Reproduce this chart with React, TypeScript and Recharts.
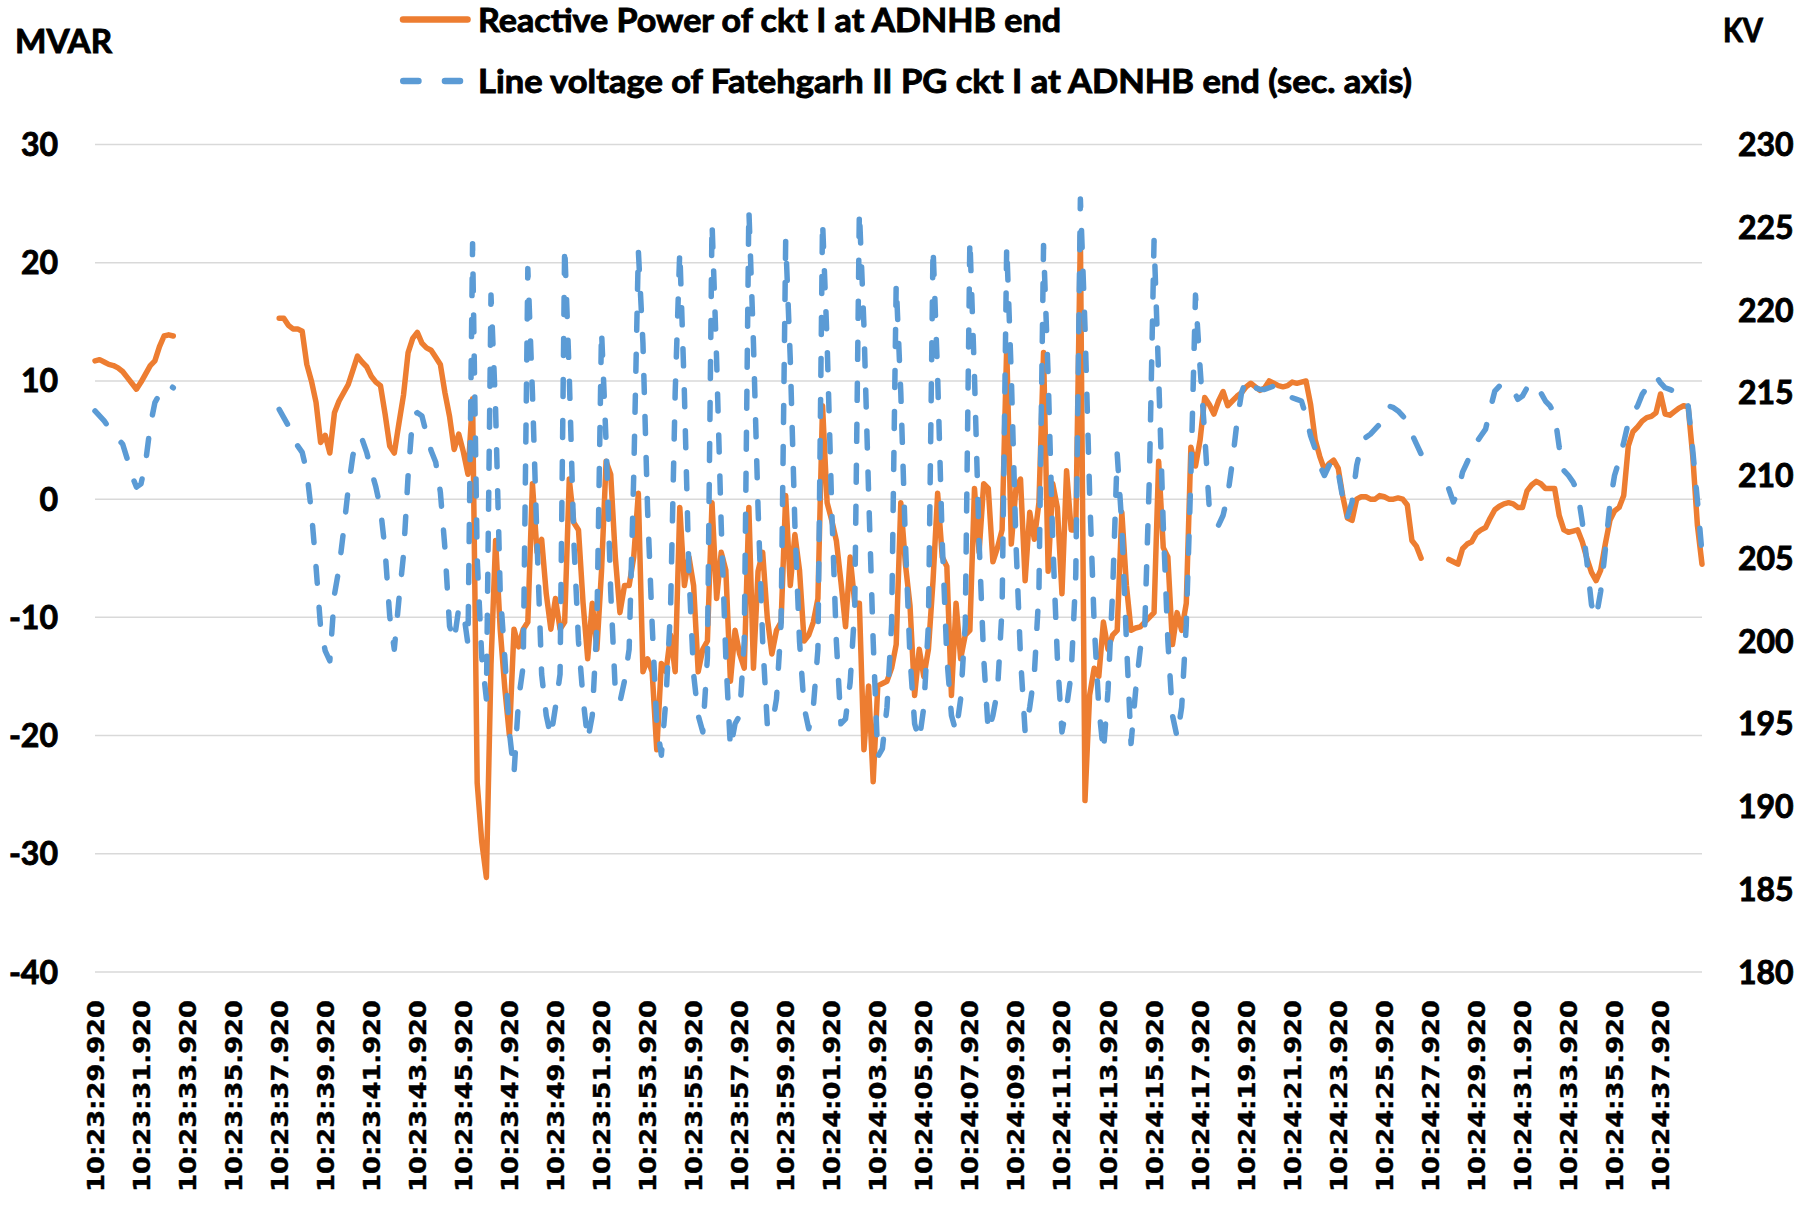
import { LineChart, Line, XAxis, YAxis, CartesianGrid } from 'recharts'

// samples every 0.2 s starting 10:23:29.920
const START_MS = (10 * 3600 + 23 * 60 + 29) * 1000 + 920
const STEP_MS = 200

const REACTIVE_MVAR: (number | null)[] = [
  11.7, 11.8, 11.6, 11.4, 11.3, 11.1, 10.8, 10.3, 9.8, 9.3,
  9.9, 10.6, 11.3, 11.7, 12.9, 13.8, 13.9, 13.8, null, null,
  null, null, null, null, null, null, null, null, null, null,
  null, null, null, null, null, null, null, null, null, null,
  15.3, 15.3, 14.7, 14.4, 14.4, 14.2, 11.4, 10.0, 8.2, 4.8,
  5.4, 3.9, 7.3, 8.3, 9.0, 9.7, 10.9, 12.1, 11.6, 11.2,
  10.4, 9.9, 9.6, 7.2, 4.5, 3.9, 6.4, 8.8, 12.4, 13.6,
  14.1, 13.2, 12.8, 12.6, 12.0, 11.4, 9.0, 7.0, 4.2, 5.5,
  4.0, 2.1, 8.5, -24, -29, -32, -14, -3.5, -11, -16,
  -20, -11, -12.5, -11, -10.4, 1.3, -4.5, -3.4, -8, -11,
  -8.4, -11, -10.4, 1.7, -2, -2.6, -8.8, -13.5, -8.8, -12.7,
  -6.1, 3.2, 2.1, -4.9, -9.6, -7.3, -7.3, -4.9, 0.5, -14.6,
  -13.5, -14.6, -21.2, -13.9, -14.6, -11.5, -14.6, -0.7, -7.3, -4.9,
  -7.3, -14.6, -12.7, -12, -0.3, -8.4, -4.5, -6, -15.4, -11.1,
  -13.1, -14.3, -0.7, -14.3, -6.1, -4.5, -10, -13.1, -11.1, -10.4,
  0.3, -7.3, -3, -6, -12, -11.5, -10.4, -8.4, 7.9, -0.3,
  -1.8, -3.5, -7, -10.8, -4.9, -8.8, -8.8, -21.2, -15.8, -23.9,
  -15.8, -15.6, -15.4, -14.3, -12.3, -0.3, -5.5, -9, -16.6, -12.7,
  -15, -12.7, -6.9, 0.5, -4.9, -5.7, -16.6, -8.8, -13.5, -11.5,
  -11.1, 0.9, -4.5, 1.3, 0.9, -5.3, -4.1, -2.6, 12.9, -3.8,
  0.9, 1.7, -6.9, -1.1, -3.4, -0.3, 12.4, -6.1, 1.3, -0.7,
  -8, 2.4, -2.6, -2.6, 22.3, -25.5, -16.6, -14.3, -15, -10.4,
  -12.7, -11.5, -11.1, -1.1, -7.3, -11.1, -10.9, -10.8, -10.4, -10,
  -9.6, 3.2, -4.1, -4.9, -12.3, -9.6, -11.1, -8.8, 4.4, 2.8,
  5, 8.6, 8.0, 7.2, 8.3, 9.1, 7.9, 8.3, 8.7, 9.0,
  9.5, 9.8, 9.5, 9.2, 9.4, 10.0, 9.8, 9.6, 9.5, 9.6,
  9.9, 9.8, 9.9, 10.0, 8.0, 5.0, 3.6, 2.5, 3.0, 3.3,
  2.6, 0.2, -1.6, -1.8, 0.0, 0.2, 0.2, 0.0, 0.0, 0.3,
  0.2, 0.0, 0.0, 0.1, 0.0, -0.5, -3.5, -4.0, -5.0, null,
  null, null, null, null, -5.1, -5.3, -5.5, -4.2, -3.8, -3.6,
  -2.9, -2.6, -2.4, -1.6, -0.9, -0.6, -0.4, -0.3, -0.4, -0.7,
  -0.7, 0.7, 1.2, 1.5, 1.3, 0.9, 0.9, 0.9, -1.4, -2.6,
  -2.8, -2.7, -2.6, -3.6, -5.0, -6.2, -6.9, -6.0, -3.8, -1.8,
  -1.0, -0.7, 0.3, 4.5, 5.7, 6.1, 6.6, 6.9, 7.0, 7.3,
  8.9, 7.2, 7.1, 7.4, 7.7, 7.9, 7.8, 3.6, -2.2, -5.5,
]

const LINE_KV: (number | null)[] = [
  213.9, 213.6, 213.3, 212.9, 212.5, 212.2, 211.9, 211.0, 210.0, 209.3,
  209.5, 210.8, 213.0, 214.4, 214.9, 215.4, 215.5, 215.3, null, null,
  null, null, null, null, null, null, null, null, null, null,
  null, null, null, null, null, null, null, null, null, null,
  214.0, 213.5, 213.0, 212.3, 211.8, 211.4, 210.2, 207.8, 204.5, 200.8,
  199.4, 198.8, 202.8, 204.4, 206.7, 209.2, 211.2, 212.3, 212.2, 211.4,
  210.3, 209.3, 208.0, 205.5, 201.5, 199.5, 202.5, 205.2, 210.0, 213.6,
  213.8, 213.6, 212.5, 211.5, 210.8, 209.0, 205.6, 200.9, 200.0, 202.0,
  201.8, 199.8, 224.0, 205, 199, 196.5, 220.9, 214, 203, 199,
  194.5, 192, 196.5, 198.5, 222.5, 215, 206, 198, 195.5, 194.2,
  196, 198, 223.9, 216, 206, 200, 196.5, 194, 195.5, 201,
  218.8, 212, 203, 197, 196.3, 197.6, 199.5, 210, 223.6, 218,
  208, 201, 195, 193.1, 196.5, 202, 215, 223.6, 215, 204,
  198, 195.5, 194.5, 199, 225.3, 217, 207, 199, 193.5, 195,
  195.5, 200, 226.1, 218, 208, 200, 195, 194.8, 196.5, 201,
  224.2, 217, 207, 200, 196, 194.7, 196, 199.5, 225.4, 218,
  208, 200, 195, 195.3, 197.5, 202, 226, 219, 209, 200,
  193, 193.5, 196, 201, 221.6, 215, 206, 199, 195, 194,
  196, 201, 223.8, 216, 206, 199, 195.5, 194.5, 196.5, 201,
  224.3, 216, 206, 199, 194.5, 195.5, 197, 202, 223.9, 216,
  206, 199, 194.5, 196, 198, 203, 223.9, 216, 206, 199,
  194.5, 196, 198, 204, 226.7, 219, 209, 201, 196, 193.3,
  197, 203, 211.3, 207, 200, 193.8, 197, 199.5, 201, 210,
  224.2, 216, 207, 200, 195.5, 194.2, 196, 201, 210, 220.9,
  216.5, 212.5, 208, 207.2, 207, 207.6, 208.8, 210.8, 213.2, 215,
  215.8, 215.8, 215.3, 215.2, 215.2, 215.3, 215.4, 215.0, 214.9, 214.8,
  214.7, 214.6, 214.5, 213.6, 212.4, 211.6, 210.6, 210.0, 210.6, 210.9,
  210.2, 208.6, 207.5, 208.4, 210.6, 211.8, 212.3, 212.5, 212.8, 213.1,
  213.8, 214.2, 214.1, 213.9, 213.6, 213.3, 212.5, 211.9, 211.3, null,
  null, null, null, null, 209.2, 208.4, 209.0, 210.2, 210.8, 211.5,
  212.0, 212.4, 212.8, 214.0, 215.1, 215.4, 215.5, 215.5, 215.2, 214.6,
  214.8, 215.3, 215.6, 215.5, 215.0, 214.5, 214.2, 213.7, 211.7, 210.3,
  210.0, 209.6, 209.0, 207.2, 204.8, 202.2, 201.4, 203.0, 205.5, 208.3,
  210.0, 210.9, 212.0, 213.2, 213.8, 214.2, 214.9, 215.3, 215.6, 216.0,
  215.6, 215.3, 215.2, 215.1, 215.0, 214.7, 214.2, 211.5, 208.5, 205.3,
]

const MVAR_TICKS = [30, 20, 10, 0, -10, -20, -30, -40]
const KV_TICKS = [230, 225, 220, 215, 210, 205, 200, 195, 190, 185, 180]

const pad = (n: number, w = 2) => String(n).padStart(w, '0')
const stamp = (ms: number) => {
  const h = Math.floor(ms / 3600000)
  const m = Math.floor((ms % 3600000) / 60000)
  const s = Math.floor((ms % 60000) / 1000)
  return `${h}:${pad(m)}:${pad(s)}.${pad(ms % 1000, 3)}`
}
const TIMES = REACTIVE_MVAR.map((_, i) => stamp(START_MS + i * STEP_MS))

const data = TIMES.map((time, i) => ({
  time,
  mvar: REACTIVE_MVAR[i],
  kv: LINE_KV[i],
}))

const W = 1812
const H = 1212
const PLOT_LEFT = 95
const PLOT_RIGHT = 1702
const PLOT_TOP = 144.5
const PLOT_BOTTOM = 972

const ORANGE = '#ED7D31'
const BLUE = '#5B9BD5'
const TEXT_FONT = 'Lato, "Open Sans", sans-serif'

// Calibri bold in the original is heavier than Lato bold, so thicken a touch
const heavy = { stroke: '#000', strokeWidth: 0.9, paintOrder: 'stroke' } as const

const MvarTick = ({ y, payload }: any) => (
  <text
    x={PLOT_LEFT - 37}
    y={y + 11.5}
    textAnchor='end'
    fontFamily={TEXT_FONT}
    fontWeight={700}
    fontSize={32}
    fill='#000'
    {...heavy}
  >
    {payload.value}
  </text>
)

const KvTick = ({ y, payload }: any) => (
  <text
    x={PLOT_RIGHT + 36}
    y={y + 11.5}
    textAnchor='start'
    fontFamily={TEXT_FONT}
    fontWeight={700}
    fontSize={32}
    fill='#000'
    {...heavy}
  >
    {payload.value}
  </text>
)

const TimeTick = ({ x, payload }: any) => (
  <text
    transform={`translate(${x},${PLOT_BOTTOM}) rotate(-90)`}
    x={-28}
    y={8.5}
    textAnchor='end'
    fontFamily='"DejaVu Sans", sans-serif'
    fontWeight={700}
    fontSize={23.5}
    textLength={192}
    lengthAdjust='spacingAndGlyphs'
    fill='#000'
    stroke='#000'
    strokeWidth={0.4}
  >
    {payload.value}
  </text>
)

const App = (): JSX.Element => {
  return (
    <div
      style={{
        position: 'absolute',
        left: 0,
        top: 0,
        width: W,
        height: H,
        background: '#fff',
      }}
    >
      <LineChart
        width={W}
        height={H}
        data={data}
        margin={{ top: PLOT_TOP, right: 0, bottom: 0, left: 0 }}
      >
        <CartesianGrid
          yAxisId='left'
          vertical={false}
          stroke='#D9D9D9'
          strokeWidth={1.5}
        />
        <XAxis
          dataKey='time'
          interval={9}
          height={H - PLOT_BOTTOM}
          axisLine={false}
          tickLine={false}
          tick={TimeTick}
        />
        <YAxis
          yAxisId='left'
          domain={[-40, 30]}
          ticks={MVAR_TICKS}
          width={PLOT_LEFT}
          axisLine={false}
          tickLine={false}
          tick={MvarTick}
          allowDataOverflow
        />
        <YAxis
          yAxisId='right'
          orientation='right'
          domain={[180, 230]}
          ticks={KV_TICKS}
          width={W - PLOT_RIGHT}
          axisLine={false}
          tickLine={false}
          tick={KvTick}
          allowDataOverflow
        />
        <Line
          yAxisId='left'
          type='linear'
          dataKey='mvar'
          stroke={ORANGE}
          strokeWidth={5.5}
          strokeLinejoin='round'
          strokeLinecap='round'
          dot={false}
          isAnimationActive={false}
        />
        <Line
          yAxisId='right'
          type='linear'
          dataKey='kv'
          stroke={BLUE}
          strokeWidth={5.5}
          strokeDasharray='17 24'
          strokeLinejoin='round'
          strokeLinecap='round'
          dot={false}
          isAnimationActive={false}
        />
      </LineChart>

      {/* legend and axis titles */}
      <svg
        width={W}
        height={110}
        style={{ position: 'absolute', left: 0, top: 0, pointerEvents: 'none' }}
      >
        <g fontFamily={TEXT_FONT} fontWeight={700} fontSize={32} fill='#000' {...heavy}>
          <text x={15} y={53.3} textLength={97} lengthAdjust='spacingAndGlyphs'>
            MVAR
          </text>
          <text x={1723} y={41.5} textLength={40} lengthAdjust='spacingAndGlyphs'>
            KV
          </text>
          <text x={478} y={31.7} textLength={583} lengthAdjust='spacingAndGlyphs'>
            Reactive Power of ckt I at ADNHB end
          </text>
          <text x={478} y={93.3} textLength={934} lengthAdjust='spacingAndGlyphs'>
            Line voltage of Fatehgarh II PG ckt I at ADNHB end (sec. axis)
          </text>
        </g>
        <line
          x1={403}
          y1={19.5}
          x2={467.5}
          y2={19.5}
          stroke={ORANGE}
          strokeWidth={6.5}
          strokeLinecap='round'
        />
        <line
          x1={403.25}
          y1={81}
          x2={460}
          y2={81}
          stroke={BLUE}
          strokeWidth={6.5}
          strokeDasharray='15.2 26.5'
          strokeLinecap='round'
        />
      </svg>
    </div>
  )
}

export default App
